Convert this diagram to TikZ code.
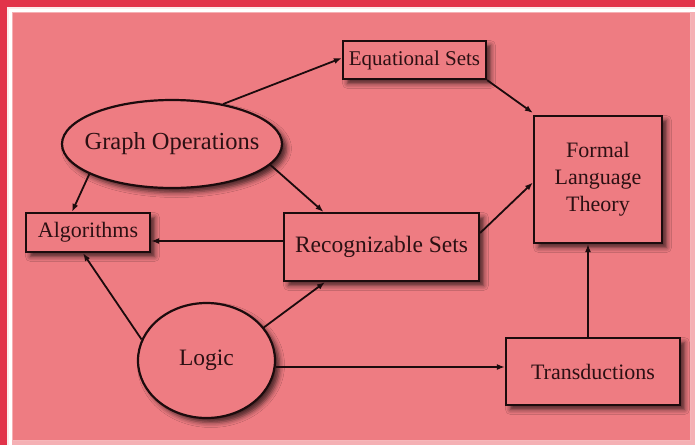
\documentclass[tikz,border=0pt]{standalone}
\usepackage{fontspec}
\setmainfont{Liberation Serif}
\usetikzlibrary{arrows.meta,calc,shapes.geometric,shadows.blur}

\definecolor{framered}{HTML}{E2334A}
\definecolor{panelpink}{HTML}{EE7C82}
\definecolor{inkdark}{HTML}{1C0B0D}
\definecolor{textdark}{HTML}{2C1013}

\tikzset{
  base/.style={draw=inkdark, line width=2.2pt, fill=panelpink, text=textdark,
    inner sep=0pt, align=center,
    blur shadow={shadow xshift=4.5pt, shadow yshift=-4.5pt, shadow blur radius=5pt, shadow opacity=70},
    font=\fontsize{22}{27}\selectfont},
  boxnode/.style={base, rectangle},
  ovalnode/.style={base, ellipse},
  ovaltext/.style={text=textdark, inner sep=0pt},
  arr/.style={draw=inkdark, line width=1.8pt, -{Latex[length=8pt,width=6pt]}}
}

\begin{document}
\begin{tikzpicture}[x=1pt, y=-1pt]
  % frame and panel
  \useasboundingbox (0,0) rectangle (695,445);
  \fill[framered] (0,0) rectangle (695,445);
  \fill[white!85!panelpink] (7,7) rectangle (695,445);
  \fill[white] (8.5,8.5) rectangle (695,445);
  \fill[panelpink!60!white] (11.5,11.5) rectangle (695,445);
  \fill[panelpink] (13,13) rectangle (690,440);
  \draw[panelpink!55!white, line width=1pt] (13,440.5) -- (690.5,440.5) -- (690.5,13);

  % boxes
  \node[boxnode, minimum width=143pt, minimum height=38pt, font=\fontsize{21}{26}\selectfont] (eq) at (414.5,60) {Equational Sets};
  \node[boxnode, minimum width=128pt, minimum height=127pt] (flt) at (598,179.5) {Formal\\Language\\Theory};
  \node[boxnode, minimum width=124pt, minimum height=39pt] (alg) at (88,232.5) {Algorithms};
  \node[boxnode, minimum width=195pt, minimum height=68pt, font=\fontsize{23.5}{28}\selectfont] (rec) at (381.5,247) {Recognizable Sets};
  \node[boxnode, minimum width=174pt, minimum height=67pt] (trans) at (593,371.5) {Transductions};

  % ellipses, sized by hand; their labels are set on top
  \node[ovalnode, minimum width=220pt, minimum height=88pt] (gop) at (172,144) {};
  \node[ovaltext, font=\fontsize{24.5}{29}\selectfont] (goptext) at (gop.center) {Graph Operations};
  \node[ovalnode, minimum width=137pt, minimum height=115pt] (logic) at (206.5,360.5) {};
  \node[ovaltext, font=\fontsize{23.5}{28}\selectfont] (logictext) at (logic.center) {Logic};

  % connectors
  \draw[arr] (gop.38) -- ([yshift=2pt]eq.west);
  \draw[arr] (gop.200) -- ([xshift=-16pt]alg.north);
  \draw[arr] (gop.-12) -- ([xshift=-58pt]rec.north);
  \draw[arr] (eq.south east) -- ([yshift=2pt]flt.north west);
  \draw[arr] ([yshift=14pt]rec.east) -- ([yshift=-3pt]flt.west);
  \draw[arr] ([yshift=6pt]rec.west) -- ([yshift=-8.5pt]alg.east);
  \draw[arr] (logic.162) -- ([xshift=-5pt]alg.south);
  \draw[arr] (logic.30) -- ([xshift=-56.5pt]rec.south);
  \draw[arr] ([yshift=-6.5pt]logic.east) -- ([yshift=4.5pt]trans.west);
  \draw[arr] ([xshift=-5pt]trans.north) -- ([xshift=-10pt]flt.south);
\end{tikzpicture}
\end{document}
